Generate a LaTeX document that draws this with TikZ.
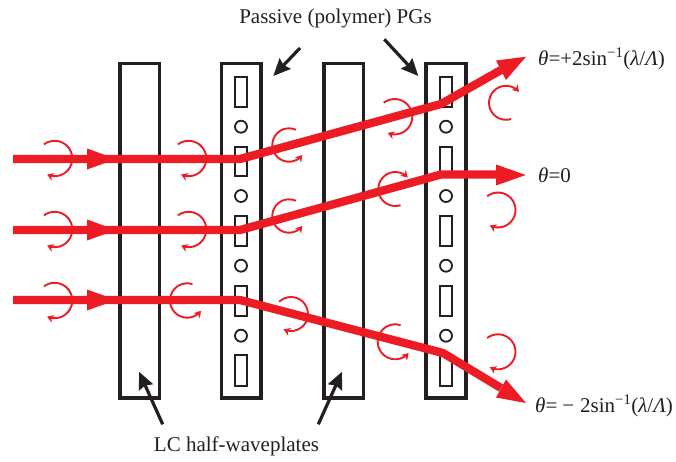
\documentclass[tikz,border=0pt]{standalone}
\usepackage{fontspec}
\setmainfont{Liberation Serif}
\usetikzlibrary{arrows.meta}
\definecolor{beamred}{HTML}{ED1C24}
\definecolor{inkblack}{HTML}{231F20}
\tikzset{
  plate/.style={draw=inkblack,line width=3.6pt,miter limit=10},
  slot/.style={draw=inkblack,line width=2.3pt},
  dot/.style={draw=inkblack,line width=1.8pt},
  beam/.style={draw=beamred,line width=8.3pt,line join=round},
  beamhead/.style={fill=beamred,draw=none},
  spinarrow/.style={draw=beamred,line width=1.9pt,-{Stealth[length=6.5pt,width=8pt,inset=2pt]}},
  pointer/.style={draw=inkblack,line width=3.2pt,-{Stealth[length=17pt,width=15pt,inset=2pt]},shorten >=0pt},
  label/.style={inner sep=0pt,font=\fontsize{21}{25}\selectfont,text=inkblack},
}
% centre x, centre y, radius, start angle, end angle (clockwise on the page for rising angles)
\newcommand{\spinat}[5]{\draw[spinarrow] plot[smooth,domain=#4:#5,samples=24] ({#1+#3*cos(\x)},{#2+#3*sin(\x)});}
\newcommand{\gratingat}[1]{%
  \foreach \ya/\yb in {76.7/106.7,146.7/176,216/246,285.7/316,355/385.7}
    \draw[slot] (#1-6,\ya) rectangle (#1+6,\yb);
  \foreach \yc in {126.7,196,265.7,335.7}
    \draw[dot] (#1,\yc) circle[radius=6];
}
\begin{document}
\begin{tikzpicture}[x=1pt,y=-1pt]
\useasboundingbox (0,0) rectangle (676,461);
% plates
\draw[plate] (120,63.5) rectangle (159.5,398);
\draw[plate] (221.5,63.5) rectangle (261,398);
\draw[plate] (324,63.5) rectangle (363.5,398);
\draw[plate] (426,63.5) rectangle (466,398);
\gratingat{241}
\gratingat{446}
% beams
\coordinate (in1) at (13,159);
\coordinate (in2) at (13,230);
\coordinate (in3) at (13,300);
\coordinate (b1) at (240,159);
\coordinate (b2) at (240,230);
\coordinate (b3) at (240,300);
\coordinate (c1) at (441,104);
\coordinate (c2) at (441,174.5);
\coordinate (c3) at (443,353);
\coordinate (e1) at (501,70);
\coordinate (e2) at (498,174.5);
\coordinate (e3) at (501,388);
\draw[beam] (in1) -- (b1) -- (c1) -- (e1);
\draw[beam] (in2) -- (b2) -- (c2) -- (e2);
\draw[beam] (in3) -- (b3) -- (c3) -- (e3);
\foreach \yy in {159,230,300}
  \fill[beamhead] (87,\yy-10.5) -- (116,\yy) -- (87,\yy+10.5) -- cycle;
\fill[beamhead] (496,60.5) -- (526,56.7) -- (506,80) -- cycle;
\fill[beamhead] (496,164.5) -- (525.7,175) -- (496,185.5) -- cycle;
\fill[beamhead] (506,379.5) -- (526,403) -- (496,397.5) -- cycle;
% circular polarisation marks
\spinat{54.6}{158.5}{17.7}{-127}{115}
\spinat{54.6}{229.5}{17.7}{-127}{115}
\spinat{54.6}{300.5}{17.7}{-127}{115}
\spinat{188.6}{158.5}{17.7}{-127}{115}
\spinat{188.6}{229.5}{17.7}{-127}{115}
\spinat{187.2}{300.5}{17.2}{288}{37}
\spinat{289}{145}{16.7}{294}{37}
\spinat{289}{216}{16.7}{294}{37}
\spinat{291}{314}{17}{-134}{116}
\spinat{394.6}{116.7}{17.7}{-128}{113}
\spinat{395.3}{189}{17}{72}{317}
\spinat{395.2}{341.8}{17.5}{288}{40}
\spinat{506}{102.8}{17}{72}{320}
\spinat{498}{210}{17.5}{-128}{118}
\spinat{498}{351.8}{17.5}{-128}{118}
% labels
\node[label] (pg) at (335.5,18) {Passive (polymer) PGs};
\node[label] (lc) at (236.5,446) {LC half-waveplates};
\node[label,anchor=west] (t1) at (538,59) {\textit{θ}=+2sin\textsuperscript{−1}(\textit{λ}/\textit{Λ})};
\node[label,anchor=west] (t2) at (538,175) {\textit{θ}=0};
\node[label,anchor=west] (t3) at (535,406) {\textit{θ}=\kern5pt−\kern6pt2sin\textsuperscript{−1}(\textit{λ}/\textit{Λ})};
% pointers
\coordinate (pa) at (300,48);
\coordinate (pb) at (273.3,76);
\coordinate (pc) at (384.3,39.3);
\coordinate (pd) at (418.3,76);
\coordinate (la) at (162.7,424.3);
\coordinate (lb) at (139,371.7);
\coordinate (lc1) at (318.3,424.3);
\coordinate (lc2) at (342,371.7);
\draw[pointer] (pa) -- (pb);
\draw[pointer] (pc) -- (pd);
\draw[pointer] (la) -- (lb);
\draw[pointer] (lc1) -- (lc2);
\end{tikzpicture}
\end{document}
